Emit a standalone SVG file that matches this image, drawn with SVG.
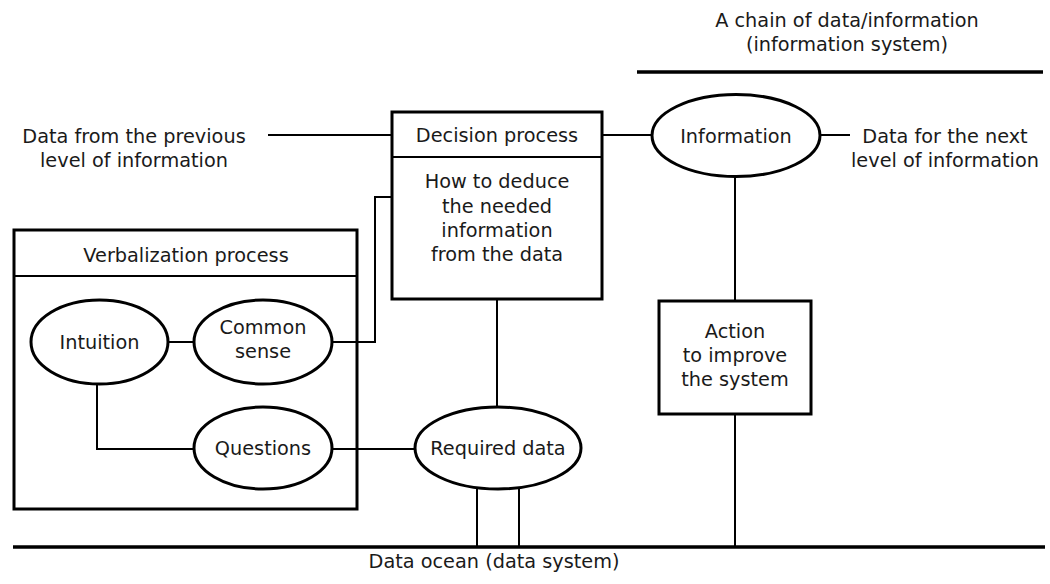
<svg xmlns="http://www.w3.org/2000/svg" width="1050" height="584" viewBox="0 0 1050 584">
<style>
text{font-family:"DejaVu Sans","Open Sans",sans-serif;font-size:19.3px;fill:#1a1a1a;text-anchor:middle}
.box{fill:#fff;stroke:#000;stroke-width:3}
.frame{fill:none;stroke:#000;stroke-width:3}
.ell{fill:#fff;stroke:#000;stroke-width:3}
.div{stroke:#000;stroke-width:2}
.con{fill:none;stroke:#000;stroke-width:2}
.bar{stroke:#000;stroke-width:3.5}
</style>
<rect width="1050" height="584" fill="#fff"/>
<g id="verbalization">
<rect class="frame" x="14" y="230" width="343" height="279"/>
<line class="div" x1="14" y1="276" x2="357" y2="276"/>
<text x="186" y="262">Verbalization process</text>
</g>
<g id="connectors">
<line class="bar" x1="637" y1="72" x2="1043" y2="72"/>
<line class="bar" x1="13" y1="547" x2="1045" y2="547"/>
<line class="con" x1="268" y1="135" x2="392" y2="135"/>
<line class="con" x1="602" y1="135" x2="652" y2="135"/>
<line class="con" x1="820" y1="135" x2="850" y2="135"/>
<line class="con" x1="735" y1="177" x2="735" y2="301"/>
<line class="con" x1="735" y1="414" x2="735" y2="547"/>
<line class="con" x1="497" y1="299" x2="497" y2="407"/>
<polyline class="con" points="332,342 375,342 375,197 392,197"/>
<line class="con" x1="168" y1="342" x2="194" y2="342"/>
<polyline class="con" points="97,384 97,449 194,449"/>
<line class="con" x1="332" y1="449" x2="415" y2="449"/>
<line class="con" x1="477" y1="487" x2="477" y2="547"/>
<line class="con" x1="519" y1="487" x2="519" y2="547"/>
</g>
<g id="title">
<text x="847" y="27">A chain of data/information</text>
<text x="847" y="51">(information system)</text>
</g>
<g id="data-prev">
<text x="134" y="143">Data from the previous</text>
<text x="134" y="167">level of information</text>
</g>
<g id="data-next">
<text x="945" y="143">Data for the next</text>
<text x="945" y="167">level of information</text>
</g>
<g id="decision">
<rect class="box" x="392" y="112" width="210" height="187"/>
<line class="div" x1="392" y1="157" x2="602" y2="157"/>
<text x="497" y="142">Decision process</text>
<text x="497" y="188">How to deduce</text>
<text x="497" y="212.5">the needed</text>
<text x="497" y="237">information</text>
<text x="497" y="261">from the data</text>
</g>
<g id="information">
<ellipse class="ell" cx="736" cy="135.5" rx="84" ry="41"/>
<text x="736" y="143">Information</text>
</g>
<g id="action">
<rect class="box" x="659" y="301" width="152" height="113"/>
<text x="735" y="338">Action</text>
<text x="735" y="362">to improve</text>
<text x="735" y="386">the system</text>
</g>
<g id="intuition">
<ellipse class="ell" cx="99.5" cy="342" rx="68.5" ry="42"/>
<text x="99.5" y="349">Intuition</text>
</g>
<g id="common-sense">
<ellipse class="ell" cx="263" cy="342" rx="69" ry="42"/>
<text x="263" y="334">Common</text>
<text x="263" y="358">sense</text>
</g>
<g id="questions">
<ellipse class="ell" cx="263" cy="448" rx="69" ry="41"/>
<text x="263" y="455">Questions</text>
</g>
<g id="required-data">
<ellipse class="ell" cx="498" cy="448" rx="83" ry="41"/>
<text x="498" y="455">Required data</text>
</g>
<g id="data-ocean">
<text x="494" y="568">Data ocean (data system)</text>
</g>
</svg>
